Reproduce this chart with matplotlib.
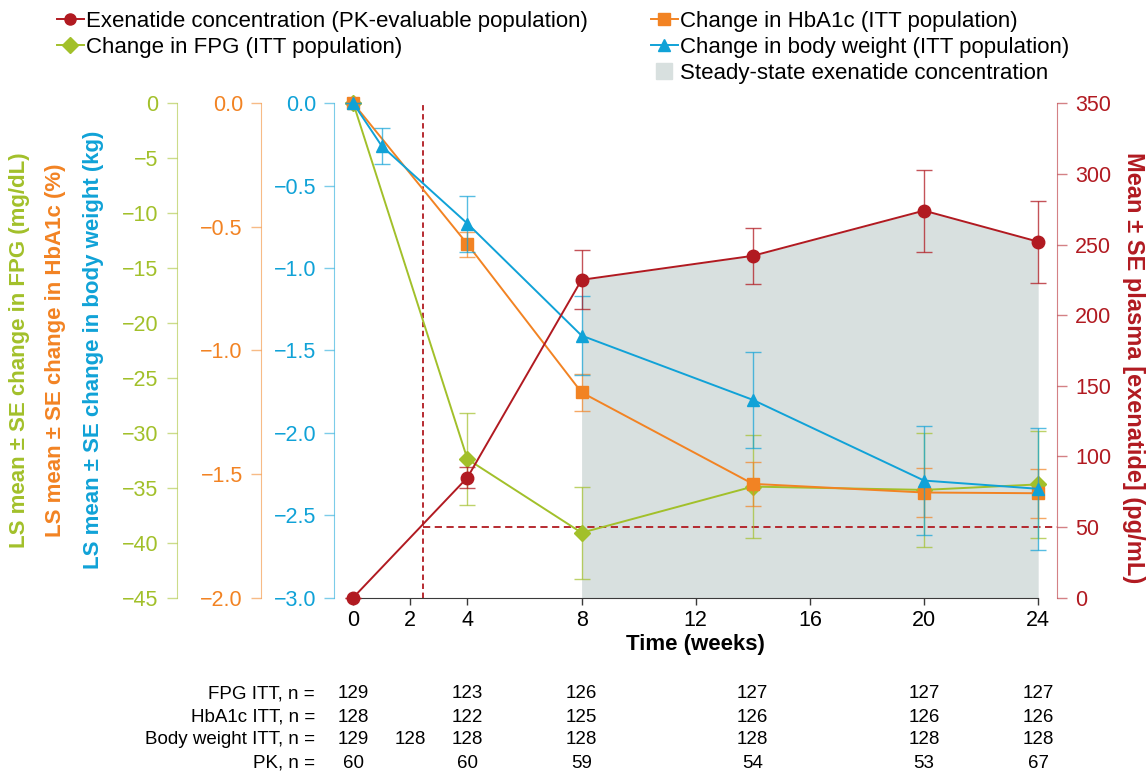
import matplotlib
matplotlib.use('Agg')
import matplotlib.pyplot as plt
from matplotlib.lines import Line2D
from matplotlib.colors import to_rgba
from matplotlib.ticker import FuncFormatter
from matplotlib.transforms import blended_transform_factory

plt.rcParams['font.family'] = ['Liberation Sans', 'DejaVu Sans']

# data
weeks_pk = [0, 4, 8, 14, 20, 24]
pk_mean = [0, 85, 225, 242, 274, 252]
pk_se = [0, 7.5, 21, 20, 29, 29]

weeks_bw = [0, 1, 4, 8, 14, 20, 24]
bw_mean = [0.0, -0.26, -0.73, -1.41, -1.80, -2.29, -2.34]
bw_se = [0, 0.11, 0.17, 0.24, 0.29, 0.33, 0.37]

weeks_itt = [0, 4, 8, 14, 20, 24]
hba1c_mean = [0.0, -0.57, -1.17, -1.54, -1.575, -1.578]
hba1c_se = [0, 0.05, 0.076, 0.09, 0.10, 0.10]
fpg_mean = [0.0, -32.4, -39.1, -34.9, -35.2, -34.7]
fpg_se = [0, 4.2, 4.2, 4.7, 5.2, 4.9]

steady_start = 8
loading_end = 2.45
pk_threshold = 50

table_cols = [0, 2, 4, 8, 14, 20, 24]
table_rows = ['FPG ITT, n =', 'HbA1c ITT, n =', 'Body weight ITT, n =', 'PK, n =']
fpg_n = [129, None, 123, 126, 127, 127, 127]
hba1c_n = [128, None, 122, 125, 126, 126, 126]
bw_n = [129, 128, 128, 128, 128, 128, 128]
pk_n = [60, None, 60, 59, 54, 53, 67]

RED = '#b11a21'
ORANGE = '#f28323'
GREEN = '#a2c02a'
BLUE = '#10a2d7'
SHADE = '#d8e0df'

fig = plt.figure(figsize=(11.46, 7.71), dpi=100)
ax = fig.add_axes([0.2917, 0.225, 0.6309, 0.641])
ax.set_xlim(-0.666, 24.67)
ax.set_ylim(0, 350)

# steady state shading and dashed guides
ax.fill_between(weeks_pk[2:], 0, pk_mean[2:], color=SHADE, lw=0, zorder=0)
ax.plot([loading_end, loading_end], [0, 350], ls=(0, (3, 2)), color=RED, lw=1.3)
ax.plot([loading_end, 24.67], [pk_threshold, pk_threshold], ls=(0, (4, 2.5)), color=RED, lw=1.3)


def fmt1(v, pos):
    return f'{v:.1f}'.replace('-', '\u2212') if abs(v) > 1e-9 else '0.0'


def fmt0(v, pos):
    return f'{v:.0f}'.replace('-', '\u2212') if abs(v) > 1e-9 else '0'


def left_twin(color, offset, ylim, ticks, fmt):
    t = ax.twinx()
    for s in ['right', 'top', 'bottom']:
        t.spines[s].set_visible(False)
    t.spines['left'].set_visible(True)
    t.spines['left'].set_position(('axes', offset))
    t.spines['left'].set_color(to_rgba(color, 0.55))
    t.yaxis.tick_left()
    t.set_ylim(*ylim)
    t.set_yticks(ticks)
    t.yaxis.set_major_formatter(FuncFormatter(fmt))
    t.tick_params(axis='y', length=7, width=1, color=to_rgba(color, 0.55),
                  labelcolor=color, labelsize=15.5, pad=6)
    return t


ax_fpg = left_twin(GREEN, -0.218, (-45, 0), list(range(-45, 1, 5)), fmt0)
ax_hb = left_twin(ORANGE, -0.1014, (-2, 0), [-2, -1.5, -1, -0.5, 0], fmt1)
ax_bw = left_twin(BLUE, 0.0, (-3, 0), [-3, -2.5, -2, -1.5, -1, -0.5, 0], fmt1)

eb = dict(lw=1.4, elinewidth=1, capsize=6, capthick=1, clip_on=False)
ax_bw.errorbar(weeks_bw, bw_mean, yerr=bw_se, color=BLUE, ecolor=to_rgba(BLUE, 0.7),
               marker='^', ms=8, **eb)
ax_hb.errorbar(weeks_itt, hba1c_mean, yerr=hba1c_se, color=ORANGE, ecolor=to_rgba(ORANGE, 0.7),
               marker='s', ms=8.5, **eb)
ax_fpg.errorbar(weeks_itt, fpg_mean, yerr=fpg_se, color=GREEN, ecolor=to_rgba(GREEN, 0.7),
                marker='D', ms=8.5, **eb)

ax_pk = ax.twinx()
ax_pk.set_ylim(0, 350)
ax_pk.axis('off')
ax_pk.errorbar(weeks_pk, pk_mean, yerr=pk_se, color=RED, ecolor=to_rgba(RED, 0.75),
               marker='o', ms=9, **eb)

# base axis: PK on the right, time on the bottom
ax.yaxis.tick_right()
ax.spines['left'].set_visible(False)
ax.spines['top'].set_visible(False)
ax.spines['right'].set_color(to_rgba(RED, 0.55))
ax.spines['bottom'].set_color('#3a3a3a')
ax.spines['bottom'].set_bounds(0, 24)
ax.set_yticks(range(0, 351, 50))
ax.tick_params(axis='y', length=7, width=1, color=to_rgba(RED, 0.55),
               labelcolor=RED, labelsize=15.5, pad=6)
ax.set_xticks([0, 2, 4, 8, 12, 16, 20, 24])
ax.tick_params(axis='x', length=5, width=1, color='#3a3a3a', labelsize=15.5, pad=4)
ax.set_xlabel('Time (weeks)', fontsize=16, fontweight='bold', labelpad=2)

# axis titles
fig.text(20 / 1146, 1 - 350 / 771, 'LS mean \u00b1 SE change in FPG (mg/dL)', rotation=90,
         ha='center', va='center', color=GREEN, fontsize=16, fontweight='bold')
fig.text(56 / 1146, 1 - 350 / 771, 'LS mean \u00b1 SE change in HbA1c (%)', rotation=90,
         ha='center', va='center', color=ORANGE, fontsize=16, fontweight='bold')
fig.text(94 / 1146, 1 - 350 / 771, 'LS mean \u00b1 SE change in body weight (kg)', rotation=90,
         ha='center', va='center', color=BLUE, fontsize=16, fontweight='bold')
fig.text(1133 / 1146, 1 - 368 / 771, 'Mean \u00b1 SE plasma [exenatide] (pg/mL)', rotation=270,
         ha='center', va='center', color=RED, fontsize=17, fontweight='bold')

# legends
h_pk = Line2D([], [], color=RED, marker='o', ms=8, lw=1.4)
h_fpg = Line2D([], [], color=GREEN, marker='D', ms=8, lw=1.4)
h_hb = Line2D([], [], color=ORANGE, marker='s', ms=8, lw=1.4)
h_bw = Line2D([], [], color=BLUE, marker='^', ms=8, lw=1.4)
h_ss = Line2D([], [], color=SHADE, marker='s', ms=11, lw=0)
leg_kw = dict(loc='upper left', frameon=False, fontsize=16, handlelength=1.2,
              handletextpad=0.1, labelspacing=0.23, borderpad=0, borderaxespad=0)
fig.legend([h_pk, h_fpg], ['Exenatide concentration (PK-evaluable population)',
                           'Change in FPG (ITT population)'],
           bbox_to_anchor=(57 / 1146, 1 - 11 / 771), **leg_kw)
fig.legend([h_hb, h_bw, h_ss], ['Change in HbA1c (ITT population)',
                                'Change in body weight (ITT population)',
                                'Steady-state exenatide concentration'],
           bbox_to_anchor=(651 / 1146, 1 - 11 / 771), **leg_kw)

# n table
tr = blended_transform_factory(ax.transData, fig.transFigure)
row_y = [694, 717, 740, 763]
for label, vals, yp in zip(table_rows, [fpg_n, hba1c_n, bw_n, pk_n], row_y):
    fig.text(315 / 1146, 1 - yp / 771, label, ha='right', va='center', fontsize=13.5)
    for c, v in zip(table_cols, vals):
        if v is not None:
            ax.text(c, 1 - yp / 771, str(v), transform=tr, ha='center', va='center',
                    fontsize=13.5, clip_on=False)

fig.savefig('out.png', dpi=100)
